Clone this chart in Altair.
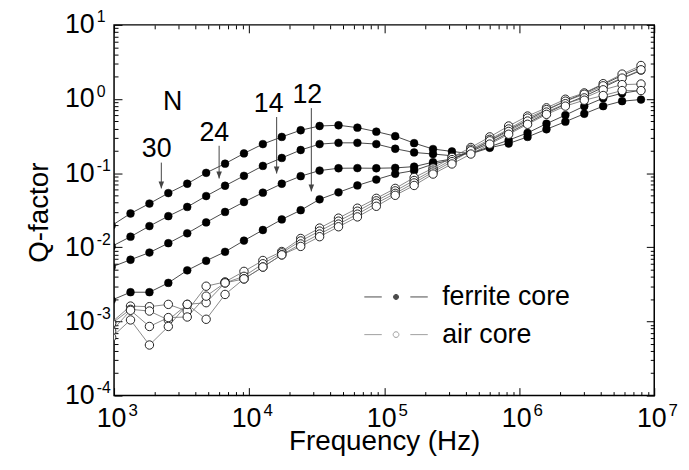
import altair as alt
import pandas as pd

FONT = "Liberation Sans"

# frequency of the measured points (Hz); the first one lies just left of the axis
freq_hz = [960, 1324, 1828, 2523, 3483, 4808, 6637, 9162, 12647, 17458, 24099,
           33266, 45920, 63387, 87498, 120781, 166724, 230144, 317687, 438530,
           605341, 835603, 1153453, 1592209, 2197860, 3033891, 4187936, 5780960,
           7979946]

ferrite_30 = [-1.707, -1.544, -1.410, -1.269, -1.143, -0.996, -0.872, -0.734, -0.608, -0.511,
              -0.421, -0.364, -0.354, -0.386, -0.440, -0.501, -0.595, -0.675, -0.707, -0.738,
              -0.658, -0.600, -0.511, -0.408, -0.306, -0.199, -0.096, -0.029, -0.007]
ferrite_24 = [-1.988, -1.857, -1.714, -1.580, -1.456, -1.309, -1.170, -1.036, -0.902, -0.795,
              -0.688, -0.608, -0.591, -0.591, -0.608, -0.671, -0.721, -0.742, -0.765, -0.731,
              -0.644, -0.555, -0.457, -0.333, -0.217, -0.096, 0.011, 0.078, 0.118]
ferrite_14 = [-2.266, -2.168, -2.071, -1.945, -1.811, -1.664, -1.523, -1.389, -1.263, -1.143,
              -1.041, -0.965, -0.934, -0.932, -0.934, -0.929, -0.912, -0.852, -0.809, -0.711,
              -0.591, -0.457, -0.324, -0.190, -0.070, 0.037, 0.158, 0.278, 0.385]
ferrite_12 = [-2.713, -2.606, -2.606, -2.480, -2.311, -2.182, -2.061, -1.910, -1.767, -1.624,
              -1.500, -1.353, -1.259, -1.166, -1.086, -1.009, -0.965, -0.878, -0.818, -0.698,
              -0.564, -0.417, -0.283, -0.150, -0.029, 0.078, 0.198, 0.318, 0.425]
# air core coils
air_1 = [-3.011, -2.793, -2.801, -2.770, -2.860, -2.525, -2.467, -2.325, -2.178, -2.057,
         -1.881, -1.741, -1.607, -1.473, -1.340, -1.206, -1.059, -0.932, -0.787, -0.654,
         -0.511, -0.364, -0.230, -0.119, -0.003, 0.082, 0.207, 0.336, 0.452]
air_2 = [-3.028, -2.837, -2.860, -2.980, -2.770, -2.747, -2.480, -2.392, -2.222, -2.075,
         -1.914, -1.781, -1.647, -1.513, -1.373, -1.239, -1.099, -0.959, -0.818, -0.678,
         -0.544, -0.404, -0.257, -0.143, -0.029, 0.064, 0.178, 0.282, 0.394]
air_3 = [-3.132, -2.850, -3.068, -2.948, -2.940, -2.659, -2.480, -2.426, -2.266, -2.102,
         -1.955, -1.821, -1.687, -1.553, -1.406, -1.273, -1.132, -0.985, -0.845, -0.698,
         -0.564, -0.437, -0.297, -0.176, -0.063, 0.015, 0.124, 0.194, 0.202]
air_4 = [-3.214, -2.980, -3.318, -3.068, -2.770, -2.971, -2.636, -2.426, -2.266, -2.102,
         -1.988, -1.857, -1.723, -1.590, -1.447, -1.299, -1.166, -1.012, -0.876, -0.742,
         -0.608, -0.475, -0.341, -0.207, -0.096, -0.016, 0.047, 0.114, 0.114]

cores = ["ferrite core", "air core"]
series_list = [
    ("ferrite core", "F30", ferrite_30), ("ferrite core", "F24", ferrite_24),
    ("ferrite core", "F14", ferrite_14), ("ferrite core", "F12", ferrite_12),
    ("air core", "A1", air_1), ("air core", "A2", air_2),
    ("air core", "A3", air_3), ("air core", "A4", air_4),
]

# annotations (turn numbers N) and arrows
ann_labels = ["N", "30", "24", "14", "12"]
ann_f = [2712, 2070, 5521, 13962, 26980]
ann_log = [-0.036, -0.671, -0.464, -0.070, 0.057]
arrow_f = [2239, 5998, 15996, 28900]
arrow_top_log = [-0.858, -0.631, -0.243, -0.123]
arrow_tip_log = [-1.206, -1.072, -1.005, -1.246]

# tick values
dec_x = [1e3, 1e4, 1e5, 1e6, 1e7]
dec_y = [1e-4, 1e-3, 1e-2, 1e-1, 1e0, 1e1]
minor_x = [m * 10 ** e for e in range(3, 7) for m in range(2, 10)]
minor_y = [m * 10.0 ** e for e in range(-4, 1) for m in range(2, 10)]

rows = []
for core, name, vals in series_list:
    for f, v in zip(freq_hz, vals):
        rows.append({"f": f, "Q": 10 ** v, "series": name, "core": core})
df = pd.DataFrame(rows)

ann_df = pd.DataFrame({"ax": ann_f, "ay": [10 ** v for v in ann_log], "label": ann_labels})
arr_df = pd.DataFrame({"ax": arrow_f,
                       "y1": [10 ** v for v in arrow_top_log],
                       "y2": [10 ** v for v in arrow_tip_log]})
leg_df = pd.DataFrame({"f": [None, None], "Q": [None, None], "core": cores})

xs = alt.Scale(type="log", domain=[1e3, 1e7], nice=False)
ys = alt.Scale(type="log", domain=[1e-4, 1e1], nice=False)
stroke_scale = alt.Scale(domain=cores, range=["#000000", "#777777"])
fill_scale = alt.Scale(domain=cores, range=["#000000", "#ffffff"])

# legend glyphs "— • —" / "— o —" (drawn wider than the symbol box)
path_f = ("M-2,0L-0.9,0M0.9,0L2,0"
          "M0.16,0A0.16,0.16,0,1,0,-0.16,0A0.16,0.16,0,1,0,0.16,0Z")
path_a = ("M-2,0L-0.9,0M0.9,0L2,0"
          "M0.18,0A0.18,0.18,0,1,0,-0.18,0A0.18,0.18,0,1,0,0.18,0Z")
shape_scale = alt.Scale(domain=cores, range=[path_f, path_a])


def tick_axis(orient, values, size):
    return alt.Axis(orient=orient, values=values, labels=False, domain=False, grid=False,
                    ticks=True, tickSize=size, offset=-size, tickColor="black",
                    tickWidth=1, title=None)


exp_expr = "'' + round(log(datum.value) / LN10)"

ax_x10 = alt.Axis(orient="bottom", values=dec_x, labelExpr="'10'", domain=False, grid=False,
                  ticks=True, tickSize=8, offset=-8, tickColor="black", labelFontSize=27,
                  labelPadding=31, labelBaseline="alphabetic", labelAlign="center",
                  labelOffset=-3, labelFlush=False, labelOverlap=False,
                  title="Frequency (Hz)", titleFontSize=28, titleFontWeight="normal",
                  titleY=62, titleBaseline="alphabetic", titleAlign="center")
ax_xexp = alt.Axis(orient="bottom", values=dec_x, labelExpr=exp_expr, domain=False, grid=False,
                   ticks=False, tickSize=0, labelFontSize=17, labelPadding=20,
                   labelBaseline="alphabetic", labelAlign="left", labelOffset=14,
                   labelFlush=False, labelOverlap=False, title=None)
ax_y10 = alt.Axis(orient="left", values=dec_y, labelExpr="'10'", domain=False, grid=False,
                  ticks=True, tickSize=8, offset=-8, tickColor="black", labelFontSize=27,
                  labelPadding=20, labelBaseline="middle", labelAlign="right",
                  labelFlush=False, labelOverlap=False,
                  title="Q-factor", titleFontSize=28, titleFontWeight="normal",
                  titleAngle=270, titleX=-83, titleY=189, titleAlign="center",
                  titleBaseline="middle")
ax_yexp = alt.Axis(orient="left", values=dec_y, labelExpr=exp_expr, domain=False, grid=False,
                   ticks=False, tickSize=0, labelFontSize=16, labelPadding=18,
                   labelBaseline="middle", labelAlign="left", labelOffset=-8,
                   labelFlush=False, labelOverlap=False, title=None)

base = alt.Chart(df)

ferrite_lines = base.transform_filter(alt.datum.core == "ferrite core").mark_line(
    clip=True, strokeWidth=0.8, color="#1a1a1a"
).encode(
    x=alt.X("f:Q", scale=xs, axis=ax_x10),
    y=alt.Y("Q:Q", scale=ys, axis=ax_y10),
    detail="series:N",
)

air_lines = base.transform_filter(alt.datum.core == "air core").mark_line(
    clip=True, strokeWidth=0.8, color="#6a6a6a"
).encode(
    x=alt.X("f:Q", scale=xs, axis=None),
    y=alt.Y("Q:Q", scale=ys, axis=None),
    detail="series:N",
)

ferrite_pts = base.transform_filter(alt.datum.core == "ferrite core").mark_point(
    shape="circle", filled=True, fill="black", stroke="black", strokeWidth=0.5,
    size=62, clip=True, opacity=1
).encode(
    x=alt.X("f:Q", scale=xs, axis=tick_axis("bottom", minor_x, 4)),
    y=alt.Y("Q:Q", scale=ys, axis=tick_axis("left", minor_y, 4)),
)

air_pts = base.transform_filter(alt.datum.core == "air core").mark_point(
    shape="circle", filled=True, fill="white", stroke="#222222", strokeWidth=1,
    size=72, clip=True, opacity=1
).encode(
    x=alt.X("f:Q", scale=xs, axis=ax_xexp),
    y=alt.Y("Q:Q", scale=ys, axis=ax_yexp),
)

arrows = alt.Chart(arr_df).mark_rule(color="#444444", strokeWidth=1).encode(
    x=alt.X("ax:Q", scale=xs, axis=tick_axis("top", dec_x, 8)),
    y=alt.Y("y1:Q", scale=ys, axis=tick_axis("right", dec_y, 8)),
    y2="y2:Q",
)

heads = alt.Chart(arr_df).mark_point(
    shape="M-0.4,-1L0,0L0.4,-1Z", filled=True, color="#444444", size=196, opacity=1
).encode(
    x=alt.X("ax:Q", scale=xs, axis=tick_axis("top", minor_x, 4)),
    y=alt.Y("y2:Q", scale=ys, axis=tick_axis("right", minor_y, 4)),
)

texts = alt.Chart(ann_df).mark_text(
    font=FONT, fontSize=27, color="black", align="center", baseline="middle"
).encode(
    x=alt.X("ax:Q", scale=xs, axis=None),
    y=alt.Y("ay:Q", scale=ys, axis=None),
    text="label:N",
)

leg = alt.Legend(orient="none", legendX=268, legendY=258, title=None, labelFont=FONT,
                 labelFontSize=27, labelColor="black", symbolSize=1024,
                 symbolStrokeWidth=1, symbolFillColor="white", labelOffset=30,
                 rowPadding=8, labelLimit=400, padding=0)

legend_layer = alt.Chart(leg_df).mark_point(filled=True, strokeWidth=1, clip=True).encode(
    x=alt.X("f:Q", scale=xs, axis=None),
    y=alt.Y("Q:Q", scale=ys, axis=None),
    shape=alt.Shape("core:N", scale=shape_scale, legend=leg),
    stroke=alt.Stroke("core:N", scale=stroke_scale, legend=leg),
    fill=alt.Fill("core:N", scale=fill_scale, legend=leg),
)

chart = alt.layer(
    ferrite_lines, air_lines, ferrite_pts, air_pts, arrows, heads, texts, legend_layer
).resolve_axis(
    x="independent", y="independent"
).properties(
    width=545, height=374,
    padding={"left": 107, "top": 15, "right": 27, "bottom": 65},
    autosize=alt.AutoSizeParams(type="none"),
    background="white",
).configure_view(
    stroke="black", strokeWidth=1.5
).configure_axis(
    labelFont=FONT, titleFont=FONT, labelColor="black", titleColor="black"
)

chart.save("out.html", embed_options={"renderer": "svg", "actions": False})
